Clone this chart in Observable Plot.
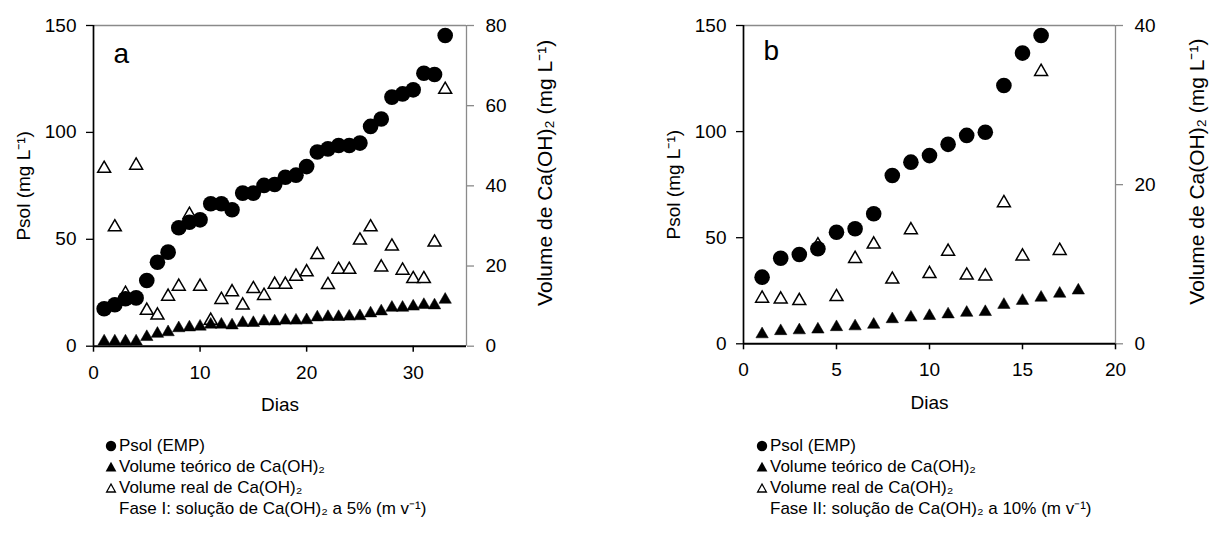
<!DOCTYPE html>
<html><head><meta charset="utf-8">
<script src="https://cdn.jsdelivr.net/npm/d3@7"></script>
<script src="https://cdn.jsdelivr.net/npm/@observablehq/plot@0.6"></script>
<style>
body{margin:0;background:#fff;font-family:"Liberation Sans",Arial,sans-serif;}
#wrap{position:relative;width:1220px;height:552px;overflow:hidden;}
.panel{position:absolute;top:0;}
.legend{position:absolute;font-size:17px;line-height:21px;color:#000;font-family:"Liberation Sans",Arial,sans-serif;}
.legend .row{position:relative;white-space:nowrap;height:21px;}
.legend svg{position:absolute;left:-14px;top:5px;overflow:visible}
</style></head><body>
<div id="wrap"></div>
<script>
// ---------- Panel a (Fase I) ----------
const daysA = [1,2,3,4,5,6,7,8,9,10,11,12,13,14,15,16,17,18,19,20,21,22,23,24,25,26,27,28,29,30,31,32,33];
const psolA = [17.5,19.4,22.2,22.6,30.7,39.3,44.0,55.4,58.0,59.1,66.6,66.6,63.8,71.6,71.6,75.2,75.6,79.0,80.0,84.0,90.8,92.3,93.9,93.9,95.0,102.8,106.3,116.5,118.0,119.9,127.7,127.1,145.3];
const teoA  = [1.2,1.2,1.2,1.2,2.3,3.1,3.5,4.5,4.7,4.9,5.4,5.4,5.2,5.8,5.8,6.2,6.2,6.4,6.4,6.5,7.2,7.3,7.3,7.4,7.5,8.2,8.7,9.6,9.6,9.9,10.3,10.2,11.6];
const realA = [44.3,29.7,13.1,45.1,8.9,7.7,12.4,14.9,32.8,14.9,6.4,11.6,13.5,10.2,14.3,12.6,15.4,15.4,17.4,18.5,22.8,15.3,19.1,19.1,26.4,29.7,19.7,24.9,18.9,16.8,16.8,25.9,64.0];

// ---------- Panel b (Fase II) ----------
const daysPsolB = [1,2,3,4,5,6,7,8,9,10,11,12,13,14,15,16];
const psolB = [31.4,40.3,42.1,44.8,52.6,54.2,61.3,79.3,85.6,88.7,94.0,98.2,99.7,121.7,137.0,145.3];
const daysTeoB = [1,2,3,4,5,6,7,8,9,10,11,12,13,14,15,16,17,18];
const teoB = [1.2,1.6,1.7,1.8,2.1,2.2,2.4,3.1,3.3,3.5,3.7,3.9,4.0,4.9,5.4,5.8,6.3,6.7];
const daysRealB = [1,2,3,4,5,6,7,8,9,10,11,12,13,14,15,16,17];
const realB = [5.7,5.6,5.4,12.4,5.9,10.7,12.5,8.1,14.3,8.8,11.6,8.6,8.5,17.7,11.0,34.2,11.7];

// ---------- Axes / text ----------
const yTicks = [0,50,100,150];
const xTicksA = [0,10,20,30];
const xTicksB = [0,5,10,15,20];
const y2TicksA = [0,20,40,60,80];
const y2TicksB = [0,20,40];
const xTitle = "Dias";
const yTitle = "Psol (mg L\u207B\u00B9)";
const y2Title = "Volume de Ca(OH)\u2082 (mg L\u207B\u00B9)";
const legendLabels = ["Psol (EMP)", "Volume te\u00F3rico de Ca(OH)\u2082", "Volume real de Ca(OH)\u2082"];
const faseA = "Fase I: solu\u00E7\u00E3o de Ca(OH)\u2082 a 5% (m v\u207B\u00B9)";
const faseB = "Fase II: solu\u00E7\u00E3o de Ca(OH)\u2082 a 10% (m v\u207B\u00B9)";

const FONT = "'Liberation Sans', Arial, sans-serif";
const GRAY = "#8a8a8a";

function panel(o) {
  const k = 150 / o.y2Max;
  const psol = o.psolDays.map((d, i) => ({x: d, y: o.psol[i]}));
  const teo = o.teoDays.map((d, i) => ({x: d, y: o.teo[i] * k}));
  const real = o.realDays.map((d, i) => ({x: d, y: o.real[i] * k}));
  return Plot.plot({
    width: o.width, height: 420,
    marginLeft: o.ml, marginRight: o.mr, marginTop: 25, marginBottom: o.mb,
    style: {fontFamily: FONT, fontSize: "19px", color: "#000", background: "transparent", overflow: "visible"},
    x: {domain: [0, o.xMax]},
    y: {domain: [0, 150]},
    marks: [
      Plot.ruleY([150], {stroke: GRAY, strokeWidth: 1.3}),
      Plot.ruleX([o.xMax], {stroke: GRAY, strokeWidth: 1.3}),
      Plot.axisY(o.y2Ticks.map(v => v * k), {anchor: "right", tickFormat: d => String(Math.round(d / k)), tickSize: 7, tickPadding: 12, stroke: GRAY, strokeWidth: 1.3, fill: "#000", fontSize: 19, label: null}),
      Plot.axisY(yTicks, {anchor: "left", tickSize: 7, tickPadding: 10, stroke: "#000", strokeWidth: 1.3, fill: "#000", fontSize: 19, label: null}),
      Plot.axisX(o.xTicks, {anchor: "bottom", tickSize: 6, tickPadding: 13, stroke: "#000", strokeWidth: 1.5, fill: "#000", fontSize: 19, label: null}),
      Plot.ruleX([0], {stroke: "#000", strokeWidth: 1.7}),
      Plot.ruleY([0], {stroke: "#000", strokeWidth: 2}),
      Plot.dot(real, {x: "x", y: "y", symbol: "triangle", r: 4.8, fill: "white", stroke: "black", strokeWidth: 1.5}),
      Plot.dot(teo, {x: "x", y: "y", symbol: "triangle", r: 4.6, fill: "black", stroke: "black", strokeWidth: 0.5}),
      Plot.dot(psol, {x: "x", y: "y", r: 7.8, fill: "black"}),
      Plot.text([o.letter], {frameAnchor: "top-left", dx: 20, dy: o.letterDy, fontSize: 28, textAnchor: "start", lineAnchor: "middle", fill: "#000"}),
      Plot.text([xTitle], {frameAnchor: "bottom", dy: 59, fontSize: 19, textAnchor: "middle", lineAnchor: "middle", fill: "#000"}),
      Plot.text([yTitle], {frameAnchor: "left", dx: -70, rotate: -90, fontSize: 19, textAnchor: "middle", lineAnchor: "middle", fill: "#000"}),
      Plot.text([y2Title], {frameAnchor: "right", dx: o.y2dx, dy: -13, rotate: -90, fontSize: 21, textAnchor: "middle", lineAnchor: "middle", fill: "#000"})
    ]
  });
}

function legend(left, top, fase) {
  const div = document.createElement("div");
  div.className = "legend";
  div.style.left = left + "px";
  div.style.top = top + "px";
  const marks = [
    '<svg width="12" height="12"><circle cx="6" cy="6" r="5.2" fill="#000"/></svg>',
    '<svg width="12" height="12"><path d="M6,0.8 L11.4,10.6 L0.6,10.6 Z" fill="#000"/></svg>',
    '<svg width="12" height="12"><path d="M6,2 L10.4,10 L1.6,10 Z" fill="#fff" stroke="#000" stroke-width="1.3"/></svg>'
  ];
  legendLabels.forEach((t, i) => {
    const r = document.createElement("div");
    r.className = "row";
    r.innerHTML = marks[i] + '<span></span>';
    r.querySelector("span").textContent = t;
    div.appendChild(r);
  });
  const r = document.createElement("div");
  r.className = "row";
  r.textContent = fase;
  div.appendChild(r);
  return div;
}

const wrap = document.getElementById("wrap");

const a = panel({width: 610, ml: 93, mr: 144, mb: 74.3, xMax: 35, xTicks: xTicksA, y2Max: 80, y2Ticks: y2TicksA,
  psolDays: daysA, psol: psolA, teoDays: daysA, teo: teoA, realDays: daysA, real: realA, letter: "a", letterDy: 29, y2dx: 79});
a.classList.add("panel"); a.style.left = "0px";
wrap.appendChild(a);

const b = panel({width: 610, ml: 133, mr: 105, mb: 76.7, xMax: 20, xTicks: xTicksB, y2Max: 40, y2Ticks: y2TicksB,
  psolDays: daysPsolB, psol: psolB, teoDays: daysTeoB, teo: teoB, realDays: daysRealB, real: realB, letter: "b", letterDy: 26, y2dx: 82});
b.classList.add("panel"); b.style.left = "610px";
wrap.appendChild(b);

wrap.appendChild(legend(119, 435, faseA));
wrap.appendChild(legend(770, 435, faseB));
</script>
</body></html>
